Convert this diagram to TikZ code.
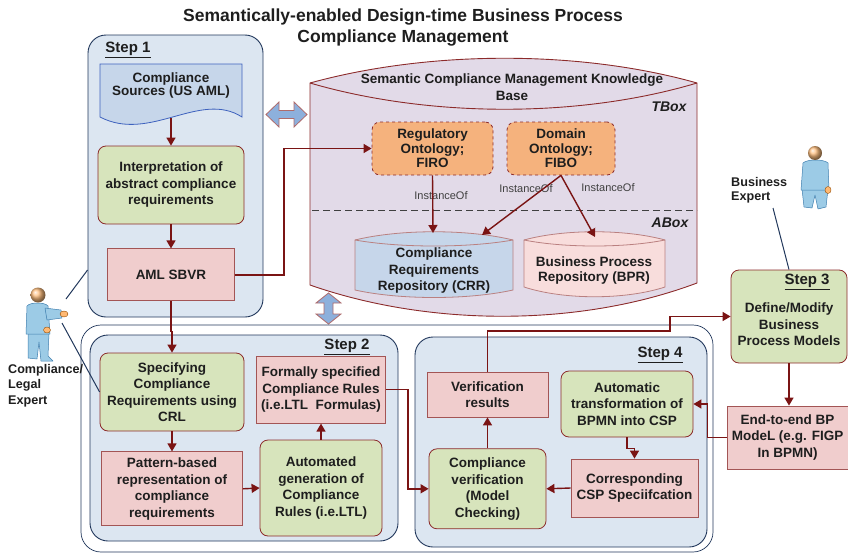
\documentclass[tikz,border=0pt]{standalone}
\usepackage{fontspec}
\setmainfont{Liberation Sans}
\usetikzlibrary{positioning,arrows.meta}

\definecolor{stepfill}{HTML}{DCE6F1}
\definecolor{stepline}{HTML}{22385C}
\definecolor{boxred}{HTML}{8C2B2B}
\definecolor{arrowred}{HTML}{7A1414}
\definecolor{greenfill}{HTML}{D7E4BC}
\definecolor{pinkfill}{HTML}{F0CDCD}
\definecolor{docfill}{HTML}{C6D6EA}
\definecolor{docline}{HTML}{3E62BE}
\definecolor{ontofill}{HTML}{F5B27D}
\definecolor{kbfill}{HTML}{E2DAE8}
\definecolor{bprfill}{HTML}{F8DDDC}
\definecolor{dblfill}{HTML}{8DB0DC}
\definecolor{personfill}{HTML}{9CCBE6}
\definecolor{personline}{HTML}{3F7FAF}
\definecolor{inkgray}{HTML}{1E1E1E}

\tikzset{
  txt/.style={font=\fontsize{13.5}{16.5}\selectfont\bfseries, text=inkgray, align=center, inner sep=2pt},
  stepbox/.style={draw=stepline, fill=stepfill, line width=0.9pt, rounded corners=18pt},
  greenbox/.style={txt, draw=boxred, fill=greenfill, line width=0.8pt, rounded corners=8pt},
  pinkbox/.style={txt, draw=boxred!80, fill=pinkfill, line width=0.8pt},
  ontobox/.style={txt, draw=boxred, fill=ontofill, line width=0.8pt, dashed, rounded corners=8pt,
                  font=\fontsize{13.5}{14.5}\selectfont\bfseries},
  steplabel/.style={font=\fontsize{15}{17}\selectfont\bfseries, text=inkgray},
  boxlabel/.style={font=\fontsize{14}{16}\selectfont\bfseries\itshape, text=inkgray},
  inst/.style={font=\fontsize{11}{13}\selectfont, text=inkgray!85},
  fwd/.style={-{Triangle[width=9pt,length=8pt]}, arrowred, line width=1.4pt},
  expertlink/.style={stepline, line width=1pt},
  person/.style={fill=personfill, draw=personline, line width=0.5pt, line join=round},
  dblarrow/.style={fill=dblfill, draw=boxred!70, line width=0.8pt},
}

\begin{document}
\begin{tikzpicture}[x=1pt, y=-1pt]
  \useasboundingbox (0,0) rectangle (848,554);

  \node[txt, font=\fontsize{17.5}{21}\selectfont\bfseries] (title) at (403,27.5)
    {Semantically-enabled Design-time Business Process\\Compliance Management};

  % step 1
  \node[stepbox, minimum width=175, minimum height=282] (step1) at (175.5,176) {};
  \node[steplabel] (s1) at (128,50) {\underline{Step 1}};
  \draw[fill=docfill, draw=docline, line width=0.8pt] (100,64) -- (242,64) -- (242,117)
    .. controls (200,90) and (150,143) .. (100,117) -- cycle;
  \node[txt, font=\fontsize{13.5}{13}\selectfont\bfseries, minimum width=142, minimum height=64] (src) at (171,86)
    {Compliance\\Sources (US AML)};
  \node[greenbox, minimum width=146, minimum height=78] (interp) at (171,185)
    {Interpretation of\\abstract compliance\\requirements};
  \node[pinkbox, minimum width=127, minimum height=52] (aml) [below=24pt of interp] {AML SBVR};

  \draw[fwd] (src.south) -- (interp.north);
  \draw[fwd] (interp.south) -- (aml.north);

  % knowledge base
  \draw[fill=kbfill, draw=boxred, line width=0.9pt] (310,83) .. controls (430,50) and (580,50) .. (697,83)
    -- (697,283) .. controls (580,327) and (430,327) .. (310,285) -- cycle;
  \draw[boxred, line width=0.9pt] (310,83) .. controls (430,118) and (580,118) .. (697,83);
  \node[txt] (kb) at (512,87) {Semantic Compliance Management Knowledge\\Base};
  \node[boxlabel] (tbox) at (669,107) {TBox};
  \node[boxlabel] (abox) at (670,223) {ABox};
  \draw[black!75, line width=0.9pt, dash pattern=on 7pt off 4pt] (312,210) -- (697,210);

  \node[ontobox, minimum width=121, minimum height=53] (reg) at (432.5,148.5) {Regulatory\\Ontology;\\FIRO};
  \node[ontobox, minimum width=108, minimum height=53] (dom) at (561,148.5) {Domain\\Ontology;\\FIBO};

  % repositories
  \draw[fill=docfill, draw=boxred!60, line width=0.8pt] (355,240) .. controls (400,229) and (468,229) .. (513,240)
    -- (513,290) .. controls (468,300) and (400,300) .. (355,290) -- cycle;
  \draw[boxred!60, line width=0.8pt] (355,240) .. controls (400,248) and (468,248) .. (513,240);
  \node[txt, font=\fontsize{13.5}{16.5}\selectfont\bfseries] (crr) at (434,271)
    {Compliance\\Requirements\\Repository (CRR)};
  \draw[fill=bprfill, draw=boxred!60, line width=0.8pt] (524,240) .. controls (564,229) and (625,229) .. (665,240)
    -- (665,287) .. controls (625,300) and (564,300) .. (524,287) -- cycle;
  \draw[boxred!60, line width=0.8pt] (524,240) .. controls (564,248) and (625,248) .. (665,240);
  \node[txt, font=\fontsize{13.5}{15}\selectfont\bfseries] (bpr) at (594,270.5)
    {Business Process\\Repository (BPR)};

  \node[inst] (i1) at (441,196) {InstanceOf};
  \node[inst] (i2) at (526,189) {InstanceOf};
  \node[inst] (i3) at (608,188) {InstanceOf};

  \coordinate (crrtop) at (433,233);
  \coordinate (crrtop2) at (482,235);
  \coordinate (bprtop) at (595,237);
  \draw[fwd] (reg.south) -- (crrtop);
  \draw[fwd] (dom.south) -- (crrtop2);
  \draw[fwd] (dom.south) -- (bprtop);
  \draw[fwd] (aml.east) -- ++(49,0) |- (reg.west);

  % exchange arrows
  \draw[dblarrow] (266,114.5) -- (279,102) -- (279,110.5) -- (294,110.5) -- (294,102) -- (307,114.5)
    -- (294,127) -- (294,118.5) -- (279,118.5) -- (279,127) -- cycle;
  \draw[dblarrow] (328.5,293) -- (341,303) -- (333,303) -- (333,314) -- (341,314) -- (328.5,324)
    -- (316,314) -- (324,314) -- (324,303) -- (316,303) -- cycle;

  % steps 2 and 4
  \node[draw=stepline, fill=white, line width=0.7pt, rounded corners=20pt,
        minimum width=632, minimum height=227] (outer) at (397,438.5) {};
  \node[stepbox, minimum width=308, minimum height=206] (step2) at (244,438) {};
  \node[stepbox, minimum width=292, minimum height=210] (step4) at (561,442) {};
  \node[steplabel] (s2) at (347,347) {\underline{Step 2}};
  \node[steplabel] (s4) at (660,355) {\underline{Step 4}};

  \node[greenbox, minimum width=144, minimum height=78] (spec) at (172,392)
    {Specifying\\Compliance\\Requirements using\\CRL};
  \node[pinkbox, minimum width=141, minimum height=74] (pattern) [below=20pt of spec]
    {Pattern-based\\representation of\\compliance\\requirements};
  \node[greenbox, minimum width=122, minimum height=96] (autogen) at (321,488)
    {Automated\\generation of\\Compliance\\Rules (i.e.LTL)};
  \node[pinkbox, minimum width=129, minimum height=67] (formal) [above=16pt of autogen]
    {Formally specified\\Compliance Rules\\(i.e.LTL\ \ Formulas)};

  \node[pinkbox, minimum width=121, minimum height=45] (verif) at (487.5,394.5) {Verification\\results};
  \node[greenbox, minimum width=117, minimum height=80] (compv) [below=31pt of verif]
    {Compliance\\verification\\(Model\\Checking)};
  \node[greenbox, minimum width=132, minimum height=66] (autotr) at (627,404)
    {Automatic\\transformation of\\BPMN into CSP};
  \node[pinkbox, minimum width=127, minimum height=58] (csp) at (634.5,488)
    {Corresponding\\CSP Speciifcation};

  % step 3
  \node[greenbox, minimum width=116, minimum height=93] (step3) at (789,316.5) {};
  \node[steplabel] (s3) at (807,282) {\underline{Step 3}};
  \node[txt] (s3text) at (789,324.5) {Define/Modify\\Business\\Process Models};
  \node[pinkbox, minimum width=121, minimum height=63] (endbp) at (787.5,437.5)
    {End-to-end BP\\ModeL (e.g. FIGP\\In BPMN)};

  \draw[fwd] (aml.south) -- ++(0,30) -| (spec.north);
  \draw[fwd] (spec.south) -- (pattern.north);
  \draw[fwd] (pattern.east) -- (autogen.west);
  \draw[fwd] (autogen.north) -- (formal.south);
  \draw[fwd] (formal.east) -- ++(22,0) |- (compv.west);
  \draw[fwd] (compv.north) -- (verif.south);
  \coordinate (bend) at (670,331);
  \draw[fwd] (verif.north) |- (bend) |- (step3.west);
  \draw[fwd] (step3.south) -- (step3.south |- endbp.north);
  \draw[fwd] (endbp.west) -- ++(-19,0) |- (autotr.east);
  \draw[fwd] (autotr.south) -- ++(0,11) -| (csp.north);
  \draw[fwd] (csp.west) -- (compv.east);

  % compliance / legal expert
  \filldraw[person] (28,333) -- (49,333) -- (48,356) -- (53,361) -- (41,361) -- (39,342) -- (37,359) -- (28,358) -- cycle;
  \filldraw[person] (27,306) .. controls (30,302) and (45,302) .. (48,306) -- (50,334) -- (26,334) -- cycle;
  \filldraw[person] (45,308) -- (61,310) -- (62,318) -- (47,320) -- cycle;
  \filldraw[fill=orange!55, draw=orange!60!black, line width=0.4pt] (64,314) ellipse (4 and 3);
  \filldraw[fill=orange!55, draw=orange!60!black, line width=0.4pt] (47,330) ellipse (3.5 and 3);
  \shade[ball color=orange!50] (38,295) circle (7.5);
  \node[txt, font=\fontsize{12.6}{15.5}\selectfont\bfseries, align=left, anchor=west] (cexpert) at (6,385.5)
    {Compliance/\\Legal\\Expert};
  \coordinate (ceshoulder) at (66,299);
  \coordinate (cehand) at (62,323);
  \draw[expertlink] (ceshoulder) -- ([yshift=-94pt]step1.west);
  \draw[expertlink] (cehand) -- (spec.west);

  % business expert
  \filldraw[person] (802,189) -- (828,189) -- (826,207) -- (818,209) -- (815,195) -- (812,208) -- (804,207) -- cycle;
  \filldraw[person] (803,163) .. controls (807,159) and (824,159) .. (828,163) -- (829,190) -- (801,190) -- cycle;
  \filldraw[fill=orange!55, draw=orange!60!black, line width=0.4pt] (828,190) ellipse (3 and 3.5);
  \shade[ball color=orange!50] (815,153) circle (7);
  \node[txt, font=\fontsize{12.6}{14}\selectfont\bfseries, align=left, anchor=west] (bexpert) at (729,190)
    {Business\\Expert};
  \coordinate (bxlink) at (773,208);
  \draw[expertlink] (bxlink) -- (step3.north);
\end{tikzpicture}
\end{document}
